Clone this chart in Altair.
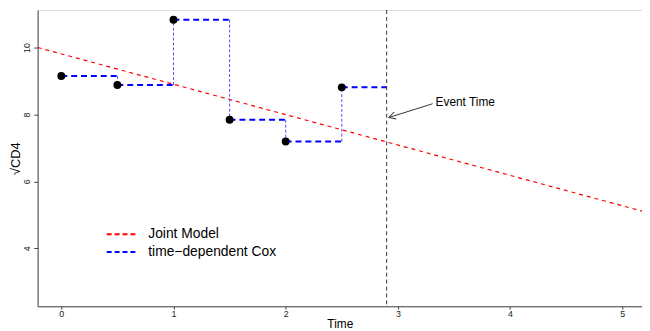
import math
import altair as alt
import pandas as pd

# ---- data ----
times = [0, 0.5, 1, 1.5, 2, 2.5]
cd4 = [9.15, 8.88, 10.83, 7.84, 7.19, 8.81]
event_time = 2.9
joint_time = [-0.21, 5.18]
joint_value = [10.0, 5.11]
x_ticks = [0, 1, 2, 3, 4, 5]
y_ticks = [4, 6, 8, 10]
legend_labels = ["Joint Model", "time\u2212dependent Cox"]
legend_colors = ["#FF0000", "#0000FF"]
legend_y = [4.42, 3.89]
legend_x = [0.405, 0.687, 0.775]
annot_text = ["Event Time"]
arrow_from = [3.31, 8.32]
arrow_to = [2.92, 7.91]

xdom = [-0.211, 5.176]
ydom = [2.27, 11.12]
W, H = 612, 300

FONT = "Liberation Sans"
xs = alt.Scale(domain=xdom, nice=False, zero=False)
ys = alt.Scale(domain=ydom, nice=False, zero=False)

# step segments
h_start = times
h_end = times[1:] + [event_time]
hseg = pd.DataFrame({"x": h_start, "x2": h_end, "y": cd4})
vseg = pd.DataFrame({"x": times[1:], "y": cd4[:-1], "y2": cd4[1:]})
pts = pd.DataFrame({"x": times, "y": cd4})
joint = pd.DataFrame({"x": joint_time, "y": joint_value})

x_axis = alt.Axis(values=x_ticks, format="d", title="Time", grid=False, tickSize=3,
                  labelPadding=0, labelFontSize=9, titleFontSize=12, titleFontWeight="normal",
                  titlePadding=0, labelColor="#222", titleColor="#000",
                  domainColor="#444", tickColor="#444", labelFont=FONT, titleFont=FONT)
y_axis = alt.Axis(values=y_ticks, format="d", title="\u221aCD4", grid=False, tickSize=4,
                  labelAngle=270, labelAlign="center", labelBaseline="bottom",
                  labelPadding=2, labelFontSize=9, titleFontSize=13, titlePadding=0,
                  titleFontWeight="normal",
                  labelColor="#222", titleColor="#000",
                  domainColor="#444", tickColor="#444", labelFont=FONT, titleFont=FONT)

base_axes = alt.Chart(joint).mark_line(
    color="#FF0000", strokeDash=[4, 4], strokeWidth=1.2, clip=True
).encode(
    x=alt.X("x:Q", scale=xs, axis=x_axis),
    y=alt.Y("y:Q", scale=ys, axis=y_axis),
)

hrules = alt.Chart(hseg).mark_rule(color="#0000FF", strokeWidth=2, strokeDash=[6, 4]).encode(
    x=alt.X("x:Q", scale=xs), x2="x2:Q", y=alt.Y("y:Q", scale=ys))

vrules = alt.Chart(vseg).mark_rule(color="#4d4dff", strokeWidth=1, strokeDash=[3, 2]).encode(
    x=alt.X("x:Q", scale=xs), y=alt.Y("y:Q", scale=ys), y2="y2:Q")

points = alt.Chart(pts).mark_circle(size=64, color="#000000", opacity=1).encode(
    x=alt.X("x:Q", scale=xs), y=alt.Y("y:Q", scale=ys))

event = alt.Chart(pd.DataFrame({"x": [event_time]})).mark_rule(
    color="#333333", strokeWidth=1, strokeDash=[4, 3]).encode(x=alt.X("x:Q", scale=xs))

arrow_df = pd.DataFrame({"x": [arrow_from[0]], "y": [arrow_from[1]],
                         "x2": [arrow_to[0]], "y2": [arrow_to[1]]})
shaft = alt.Chart(arrow_df).mark_rule(color="#333333", strokeWidth=1).encode(
    x=alt.X("x:Q", scale=xs), y=alt.Y("y:Q", scale=ys), x2="x2:Q", y2="y2:Q")

# arrow head direction in pixel space
px_per_x = W / (xdom[1] - xdom[0])
px_per_y = H / (ydom[1] - ydom[0])
dx = (arrow_to[0] - arrow_from[0]) * px_per_x
dy = -(arrow_to[1] - arrow_from[1]) * px_per_y
ang = math.degrees(math.atan2(dy, dx)) % 360

head = alt.Chart(pd.DataFrame({"x": [arrow_to[0]], "y": [arrow_to[1]]})).mark_point(
    shape="M-1,-0.55L0,0L-1,0.55", size=180, filled=False, color="#333333",
    strokeWidth=1, angle=ang, opacity=1
).encode(x=alt.X("x:Q", scale=xs), y=alt.Y("y:Q", scale=ys))

label = alt.Chart(pd.DataFrame({"x": [arrow_from[0]], "y": [arrow_from[1]], "t": annot_text})).mark_text(
    align="left", baseline="middle", fontSize=12, font=FONT, color="#000", dx=3, dy=-2
).encode(x=alt.X("x:Q", scale=xs), y=alt.Y("y:Q", scale=ys), text="t:N")

leg_df = pd.DataFrame({"x": [legend_x[0]] * 2, "x2": [legend_x[1]] * 2,
                       "tx": [legend_x[2]] * 2, "y": legend_y,
                       "label": legend_labels, "color": legend_colors})
leg_lines = alt.Chart(leg_df).mark_rule(strokeWidth=2, strokeDash=[5, 3]).encode(
    x=alt.X("x:Q", scale=xs), x2="x2:Q", y=alt.Y("y:Q", scale=ys),
    color=alt.Color("color:N", scale=None))
leg_text = alt.Chart(leg_df).mark_text(align="left", baseline="middle", fontSize=14,
                                       font=FONT, color="#000").encode(
    x=alt.X("tx:Q", scale=xs), y=alt.Y("y:Q", scale=ys), text="label:N")

chart = alt.layer(
    base_axes, vrules, hrules, event, points, shaft, head, label, leg_lines, leg_text
).properties(
    width=W, height=H,
    autosize=alt.AutoSizeParams(type="none"),
    padding={"left": 30, "top": 0, "right": 0, "bottom": 23},
).configure_view(stroke=None).configure(background="white")

chart.save("out.html", embed_options={"renderer": "svg", "actions": False})
